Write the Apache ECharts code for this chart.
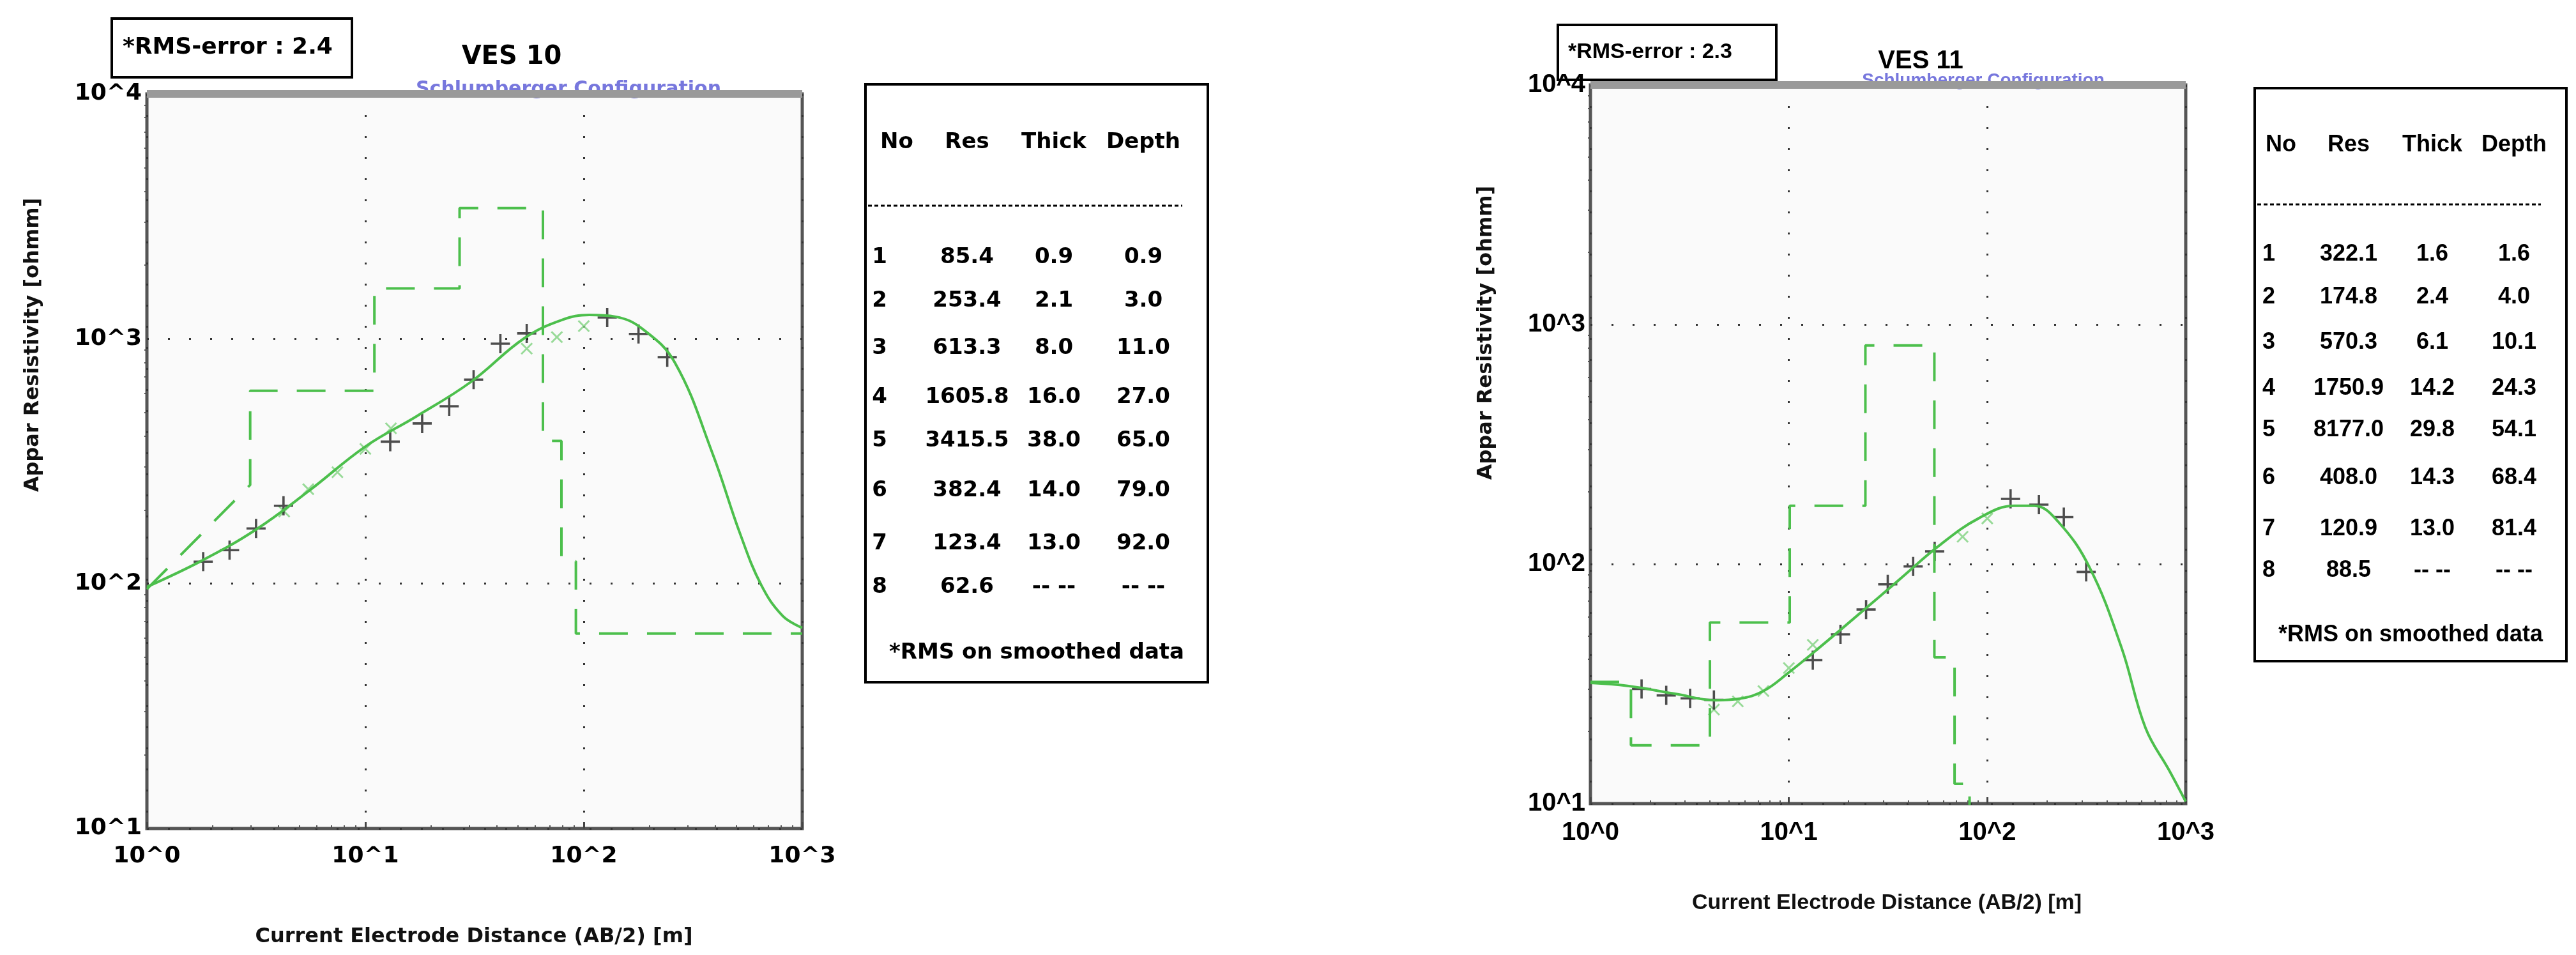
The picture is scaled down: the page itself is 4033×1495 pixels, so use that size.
<!DOCTYPE html>
<html>
<head>
<meta charset="utf-8">
<script src="https://cdn.jsdelivr.net/npm/echarts@6/dist/echarts.min.js"></script>
<style>html,body{margin:0;padding:0;background:#fff}#c{width:4033px;height:1495px}</style>
</head>
<body>
<div id="c"></div>
<script>
// VES 10
var obs10 = [[1.81,123],[2.39,137],[3.16,168],[4.22,208],[13.0,380],[18.2,451],[24.2,530],[31.3,681],[41.5,955],[54.8,1052],[128,1222],[178,1047],[241,841]];
var smooth10 = [[4.25,197],[5.48,243],[7.45,285],[10,355],[13.1,431],[54.8,912],[75.3,1016],[100,1127]];
var model10 = [[1,97],[1.78,124],[3.15,166],[5.54,240],[10,363],[17.2,483],[30.3,665],[53.4,1005],[79.4,1194],[106,1251],[140,1230],[186,1096],[261,800],[389,339],[518,161],[648,99],[812,74],[1000,66]];
var layers10 = [[1,95],[2.97,253],[2.97,613.3],[11,613.3],[11,1605.8],[27,1605.8],[27,3415.5],[65,3415.5],[65,382.4],[79,382.4],[79,123.4],[92,123.4],[92,62.6],[1000,62.6]];
var table10 = [['1','85.4','0.9','0.9'],['2','253.4','2.1','3.0'],['3','613.3','8.0','11.0'],['4','1605.8','16.0','27.0'],['5','3415.5','38.0','65.0'],['6','382.4','14.0','79.0'],['7','123.4','13.0','92.0'],['8','62.6','-- --','-- --']];

// VES 11
var obs11 = [[1.81,30.1],[2.41,28.3],[3.18,27.5],[4.19,27.1],[13.2,39.7],[18.2,50.9],[24.5,64.6],[31.5,82.3],[42.3,97.7],[54.3,113],[131,187],[182,177],[243,157],[315,92.7]];
var smooth11 = [[4.19,24.7],[5.53,26.7],[7.44,29.5],[10,36.8],[13.2,46.0],[75.1,130],[100,155]];
var model11 = [[1,31.9],[1.54,31],[2.69,28.7],[4.27,27],[5.63,27.4],[7.44,29.5],[10,35.3],[14.2,44.7],[22.6,61.9],[35.8,85.7],[56.9,119],[90.2,155],[137,175],[172,175],[228,150],[328,96.6],[475,44.7],[627,20.7],[828,13.7],[1000,10.2]];
var layers11 = [[1,32.2],[1.6,32.2],[1.6,17.5],[4,17.5],[4,57],[10.1,57],[10.1,175],[24.3,175],[24.3,818],[54.1,818],[54.1,40.8],[68.4,40.8],[68.4,12.1],[81.4,12.1],[81.4,8.85]];
var table11 = [['1','322.1','1.6','1.6'],['2','174.8','2.4','4.0'],['3','570.3','6.1','10.1'],['4','1750.9','14.2','24.3'],['5','8177.0','29.8','54.1'],['6','408.0','14.3','68.4'],['7','120.9','13.0','81.4'],['8','88.5','-- --','-- --']];

var heads = ['No','Res','Thick','Depth'];
var green = '#4cbf4c';
var plus = 'path://M-1.2,-10H1.2V10H-1.2Z M-10,-1.2H10V1.2H-10Z';

function pow10(v){ return '10^' + Math.round(Math.log10(v)); }

function xAx(i, font, size){
  return {type:'log', logBase:10, gridIndex:i, min:1, max:1000,
    axisLine:{show:false}, axisTick:{show:true, inside:true, length:10, lineStyle:{color:'#444', width:3}},
    minorTick:{show:true, splitNumber:9, length:5, lineStyle:{color:'#555', width:2}},
    splitLine:{show:true, lineStyle:{color:'#333', type:[3,30], width:3}},
    axisLabel:{formatter:pow10, fontSize:size, fontWeight:'bold', color:'#000', fontFamily:font, margin:26}};
}
function yAx(i, font, size){
  return {type:'log', logBase:10, gridIndex:i, min:10, max:10000,
    axisLine:{show:false}, axisTick:{show:false},
    minorTick:{show:true, splitNumber:9, length:4, lineStyle:{color:'#555', width:2}},
    splitLine:{show:true, lineStyle:{color:'#333', type:[3,30], width:3}},
    axisLabel:{formatter:pow10, fontSize:size, fontWeight:'bold', color:'#000', fontFamily:font, margin:8}};
}
function series(i, obs, sm, model, layers){
  return [
    {type:'line', xAxisIndex:i, yAxisIndex:i, data:layers, symbol:'none', clip:true,
      lineStyle:{color:green, width:4, type:[45,30]}},
    {type:'line', xAxisIndex:i, yAxisIndex:i, data:model, smooth:0.4, symbol:'none', clip:true,
      lineStyle:{color:green, width:4}},
    {type:'scatter', xAxisIndex:i, yAxisIndex:i, data:sm, symbol:plus, symbolRotate:45, symbolSize:24,
      itemStyle:{color:'#7fd27f'}},
    {type:'scatter', xAxisIndex:i, yAxisIndex:i, data:obs, symbol:plus, symbolSize:30,
      itemStyle:{color:'#222'}}
  ];
}
function table(g, rows, box, cols, headY, lineY, rowY, rmsY, font, size){
  g.push({type:'rect', shape:{x:box[0], y:box[1], width:box[2], height:box[3]},
    style:{fill:'#fff', stroke:'#000', lineWidth:4}});
  heads.forEach(function(h, k){
    g.push({type:'text', x:cols[k], y:headY, style:{text:h, font:'bold '+size+'px '+font, fill:'#000', align:'center', verticalAlign:'middle'}});
  });
  g.push({type:'line', shape:{x1:box[0]+4, y1:lineY, x2:box[0]+box[2]-40, y2:lineY},
    style:{stroke:'#000', lineWidth:3, lineDash:[6,4]}});
  rows.forEach(function(r, j){
    r.forEach(function(t, k){
      g.push({type:'text', x:(k===0?box[0]+22:cols[k]), y:rowY[j], style:{text:t, font:'bold '+size+'px '+font, fill:'#000', align:'center', verticalAlign:'middle'}});
    });
  });
  g.push({type:'text', x:box[0]+box[2]/2, y:rmsY, style:{text:'*RMS on smoothed data', font:'bold '+size+'px '+font, fill:'#000', align:'center', verticalAlign:'middle'}});
}

var chart = echarts.init(document.getElementById('c'));
var f1 = 'DejaVu Sans', f2 = 'Liberation Sans';
var g = [];
// left chart decorations
g.push({type:'text', x:890, y:140, style:{text:'Schlumberger Configuration', font:'bold 30px '+f1, fill:'#7777dd', align:'center', verticalAlign:'middle'}});
g.push({type:'rect', shape:{x:230, y:141, width:1026, height:12}, style:{fill:'#9a9a9a'}, z:10});
g.push({type:'rect', shape:{x:175, y:29, width:376, height:92}, style:{fill:'#fff', stroke:'#000', lineWidth:4}});
g.push({type:'text', x:192, y:75, style:{text:'*RMS-error : 2.4', font:'bold 36px '+f1, fill:'#000', verticalAlign:'middle'}});
g.push({type:'text', x:801, y:90, style:{text:'VES 10', font:'bold 40px '+f1, fill:'#000', align:'center', verticalAlign:'middle'}});
g.push({type:'text', x:742, y:1467, style:{text:'Current Electrode Distance (AB/2) [m]', font:'bold 32px '+f1, fill:'#111', align:'center', verticalAlign:'middle'}});
g.push({type:'text', x:52, y:540, rotation:Math.PI/2, style:{text:'Appar Resistivity [ohmm]', font:'bold 32px '+f1, fill:'#111', align:'center', verticalAlign:'middle'}});
table(g, table10, [1355,132,536,936], [1404,1514,1650,1790], 223, 322, [403,471,545,622,690,768,851,919], 1022, f1, 34);
// right chart decorations
g.push({type:'text', x:3105, y:126, style:{text:'Schlumberger Configuration', font:'bold 28px '+f2, fill:'#7777dd', align:'center', verticalAlign:'middle'}});
g.push({type:'rect', shape:{x:2490, y:127, width:932, height:12}, style:{fill:'#9a9a9a'}, z:10});
g.push({type:'rect', shape:{x:2439, y:39, width:342, height:86}, style:{fill:'#fff', stroke:'#000', lineWidth:4}});
g.push({type:'text', x:2455, y:82, style:{text:'*RMS-error : 2.3', font:'bold 34px '+f2, fill:'#000', verticalAlign:'middle'}});
g.push({type:'text', x:3007, y:96, style:{text:'VES 11', font:'bold 40px '+f2, fill:'#000', align:'center', verticalAlign:'middle'}});
g.push({type:'text', x:2954, y:1414, style:{text:'Current Electrode Distance (AB/2) [m]', font:'bold 34px '+f2, fill:'#111', align:'center', verticalAlign:'middle'}});
g.push({type:'text', x:2327, y:521, rotation:Math.PI/2, style:{text:'Appar Resistivity [ohmm]', font:'bold 32px '+f1, fill:'#111', align:'center', verticalAlign:'middle'}});
table(g, table11, [3530,138,488,897], [3571,3677,3808,3936], 227, 320, [398,465,536,608,673,748,828,893], 994, f2, 36);

chart.setOption({
  backgroundColor:'#fff',
  animation:false,
  grid:[
    {left:230, top:147, width:1026, height:1150, show:true, backgroundColor:'#fafafa', borderColor:'#555', borderWidth:5},
    {left:2490, top:133, width:932, height:1125, show:true, backgroundColor:'#fafafa', borderColor:'#555', borderWidth:5}
  ],
  xAxis:[xAx(0,f1,36), xAx(1,f2,40)],
  yAxis:[yAx(0,f1,36), yAx(1,f2,40)],
  series: series(0, obs10, smooth10, model10, layers10).concat(series(1, obs11, smooth11, model11, layers11)),
  graphic: g
});
</script>
</body>
</html>
